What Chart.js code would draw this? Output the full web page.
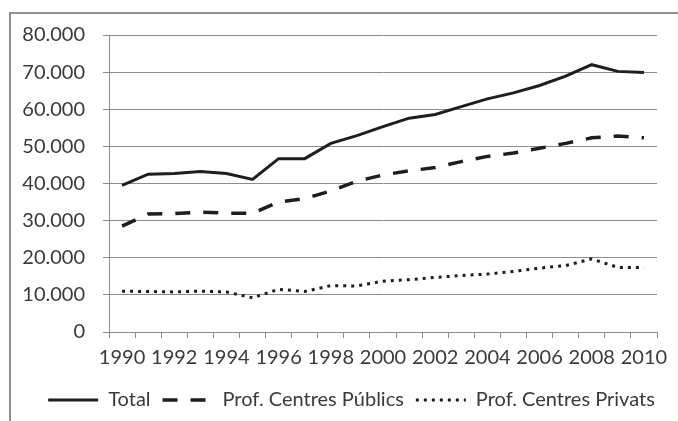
<!DOCTYPE html>
<html lang="ca">

<head>
    <meta charset="UTF-8">
    <script src="https://cdn.jsdelivr.net/npm/chart.js@4.4.3/dist/chart.umd.min.js"></script>
    <style>
        html, body {
            margin: 0;
            padding: 0;
            width: 678px;
            height: 421px;
            overflow: hidden;
            background: #fff;
        }

        .frame {
            position: absolute;
            left: 9px;
            top: 12px;
            width: 700px;
            height: 440px;
            border-left: 2px solid #8f8f8f;
            border-top: 2px solid #8f8f8f;
        }

        canvas {
            position: absolute;
            left: 0;
            top: 0;
        }
    </style>
</head>

<body>
    <div class="frame"></div>
    <canvas id="chart" width="678" height="421"></canvas>

    <script>
        const years = ["1990", "1991", "1992", "1993", "1994", "1995", "1996", "1997", "1998", "1999", "2000",
            "2001", "2002", "2003", "2004", "2005", "2006", "2007", "2008", "2009", "2010"];

        const total = [39500, 42500, 42700, 43200, 42700, 41100, 46700, 46700, 50800, 52900, 55300,
            57600, 58600, 60700, 62800, 64400, 66400, 68900, 72000, 70200, 69900];

        const publics = [28500, 31800, 31900, 32300, 32000, 32000, 35000, 35900, 38000, 40600, 42300,
            43400, 44300, 45900, 47300, 48200, 49500, 50800, 52300, 52800, 52300];

        const privats = [11000, 10900, 10800, 11000, 10800, 9200, 11500, 10900, 12500, 12400, 13700,
            14100, 14700, 15200, 15600, 16300, 17200, 17900, 19700, 17400, 17400];

        const y_ticks = { min: 0, max: 80000, step: 10000 };

        const line_color = "#1e1e1e";
        const grid_color = "#8c8c8c";
        const text_color = "#3a3a3a";
        const font = { family: "Lato", size: 20 };

        // 80000 -> "80.000"
        const format_number = value => String(value).replace(/\B(?=(\d{3})+(?!\d))/g, ".");

        // legend sits a bit right of the canvas centre in the original
        const legend_shift = {
            id: "legend_shift",
            afterLayout(chart) {
                chart.legend.left += 23;
                chart.legend.right += 23;
            }
        };

        let chartjs = new Chart(document.getElementById("chart"), {
            type: "line",
            data: {
                labels: years,
                datasets: [
                    {
                        label: "Total",
                        data: total,
                        borderColor: line_color,
                        backgroundColor: line_color,
                        borderWidth: 3
                    },
                    {
                        label: "Prof. Centres Públics",
                        data: publics,
                        borderColor: line_color,
                        backgroundColor: line_color,
                        borderWidth: 3.5,
                        borderDash: [15, 13]
                    },
                    {
                        label: "Prof. Centres Privats",
                        data: privats,
                        borderColor: line_color,
                        backgroundColor: line_color,
                        borderWidth: 3,
                        borderDash: [3, 5]
                    }
                ]
            },
            plugins: [legend_shift],
            options: {
                responsive: false,
                animation: false,
                devicePixelRatio: 1,
                elements: {
                    point: { radius: 0, hoverRadius: 0 },
                    line: { tension: 0, fill: false }
                },
                layout: {
                    padding: { left: 0, right: 21, top: 35, bottom: 1 }
                },
                plugins: {
                    tooltip: { enabled: false },
                    legend: {
                        position: "bottom",
                        labels: {
                            usePointStyle: true,
                            pointStyle: "line",
                            pointStyleWidth: 50,
                            color: text_color,
                            font: font,
                            padding: 12,
                            // point style drops the dash, take it from the dataset
                            generateLabels: chart =>
                                Chart.defaults.plugins.legend.labels.generateLabels(chart).map(item => {
                                    let dataset = chart.data.datasets[item.datasetIndex];
                                    item.lineDash = dataset.borderDash || [];
                                    item.lineWidth = dataset.borderWidth;
                                    item.strokeStyle = dataset.borderColor;
                                    return item;
                                })
                        }
                    }
                },
                scales: {
                    x: {
                        type: "category",
                        offset: true,
                        grid: {
                            offset: true,
                            drawOnChartArea: false,
                            drawTicks: true,
                            tickLength: 6,
                            color: grid_color
                        },
                        border: { color: grid_color, width: 1 },
                        ticks: {
                            autoSkip: false,
                            maxRotation: 0,
                            padding: 8,
                            color: text_color,
                            font: font,
                            callback: (value, index) => index % 2 == 0 ? years[index] : ""
                        }
                    },
                    y: {
                        min: y_ticks.min,
                        max: y_ticks.max,
                        grid: {
                            color: grid_color,
                            drawTicks: true,
                            tickLength: 6
                        },
                        border: { color: grid_color, width: 1 },
                        ticks: {
                            stepSize: y_ticks.step,
                            padding: 18,
                            color: text_color,
                            font: font,
                            callback: value => format_number(value)
                        },
                        afterFit: scale => { scale.width = 109; }
                    }
                }
            }
        });
    </script>
</body>

</html>
